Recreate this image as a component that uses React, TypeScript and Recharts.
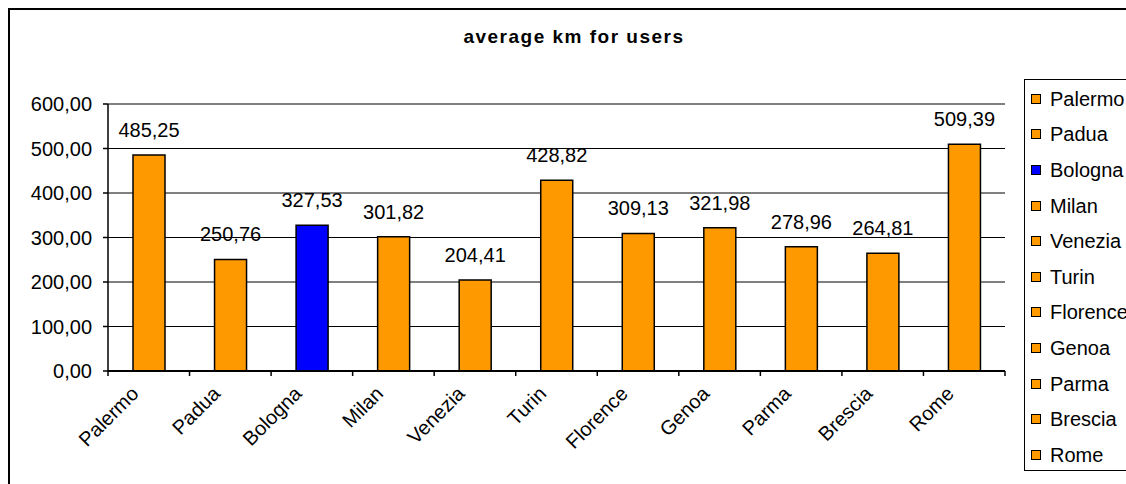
import { BarChart, Bar, XAxis, YAxis, CartesianGrid, Cell, LabelList, ReferenceLine } from "recharts";

const cities = ["Palermo", "Padua", "Bologna", "Milan", "Venezia", "Turin", "Florence", "Genoa", "Parma", "Brescia", "Rome"];
const avgKm = [485.25, 250.76, 327.53, 301.82, 204.41, 428.82, 309.13, 321.98, 278.96, 264.81, 509.39];
const cityColors = ["#FF9900", "#FF9900", "#0000FF", "#FF9900", "#FF9900", "#FF9900", "#FF9900", "#FF9900", "#FF9900", "#FF9900", "#FF9900"];
const yTicks = [0, 100, 200, 300, 400, 500, 600];

const FONT = '"Liberation Sans", Arial, sans-serif';
const FS = 20;
const CHART_W = 1116;
const CHART_H = 474;
const MARGIN = { top: 94, right: 121, left: 10, bottom: 13 };
const Y_AXIS_W = 88;
const PLOT_W = CHART_W - MARGIN.left - Y_AXIS_W - MARGIN.right;
const BAND = PLOT_W / cities.length;

const fmt = (v: number) => v.toFixed(2).replace(".", ",");

const data = cities.map((name, i) => ({ name, km: avgKm[i] }));

function CityTick(props: any) {
  const { x, y, payload, index } = props;
  const left = x - BAND / 2;
  const right = x + BAND / 2;
  return (
    <g>
      <line x1={left} y1={y} x2={left} y2={y + 5} stroke="#000" strokeWidth={1.5} />
      {index === cities.length - 1 && (
        <line x1={right} y1={y} x2={right} y2={y + 5} stroke="#000" strokeWidth={1.5} />
      )}
      <g transform={`translate(${x - 9},${y + 24})`}>
        <text transform="rotate(-45)" textAnchor="end" fontSize={FS} fill="#000" fontFamily={FONT}>
          {payload.value}
        </text>
      </g>
    </g>
  );
}

export default function App() {
  // fixed so the frame running past the window edge doesn't add scrollbars
  return (
    <div
      style={{
        position: "fixed",
        left: 8,
        top: 8,
        width: 1118,
        height: 476,
        borderTop: "2px solid #000",
        borderLeft: "2px solid #000",
        boxSizing: "border-box",
        overflow: "hidden",
        fontFamily: FONT,
        background: "#fff",
      }}
    >
      <div
        style={{
          position: "absolute",
          left: 0,
          top: 17,
          width: 1128,
          textAlign: "center",
          fontWeight: "bold",
          fontSize: 19,
          lineHeight: "20px",
          letterSpacing: 1.5,
          color: "#000",
        }}
      >
        average km for users
      </div>

      <div style={{ position: "absolute", left: 0, top: 0 }}>
        <BarChart width={CHART_W} height={CHART_H} data={data} margin={MARGIN}>
          <CartesianGrid vertical={false} stroke="#000" strokeWidth={1} yAxisId="left" />
          <XAxis
            dataKey="name"
            interval={0}
            height={100}
            axisLine={{ stroke: "#000", strokeWidth: 2 }}
            tickLine={false}
            tickSize={0}
            tickMargin={0}
            tick={<CityTick />}
          />
          <YAxis
            yAxisId="left"
            domain={[0, 600]}
            ticks={yTicks}
            width={Y_AXIS_W}
            tickFormatter={fmt}
            tick={{ fill: "#000", fontSize: FS, fontFamily: FONT }}
            axisLine={{ stroke: "#000", strokeWidth: 1.5 }}
            tickLine={{ stroke: "#000", strokeWidth: 1.5 }}
            tickSize={5}
            tickMargin={11}
          />
          <YAxis
            yAxisId="right"
            orientation="right"
            domain={[0, 600]}
            width={0}
            tick={false}
            tickLine={false}
            axisLine={{ stroke: "#808080", strokeWidth: 1.5 }}
          />
          <ReferenceLine yAxisId="left" y={600} stroke="#808080" strokeWidth={1.5} />
          <Bar yAxisId="left" dataKey="km" barSize={32} stroke="#000" strokeWidth={1.5} isAnimationActive={false}>
            {data.map((_, i) => (
              <Cell key={i} fill={cityColors[i]} />
            ))}
            <LabelList
              dataKey="km"
              position="top"
              offset={18}
              formatter={(v: any) => fmt(Number(v))}
              style={{ fill: "#000", fontSize: FS, fontFamily: FONT }}
            />
          </Bar>
        </BarChart>
      </div>

      <div
        style={{
          position: "absolute",
          left: 1014,
          top: 69,
          width: 140,
          height: 392,
          border: "1px solid #000",
          boxSizing: "border-box",
          paddingTop: 1,
        }}
      >
        {cities.map((c, i) => (
          <div key={c} style={{ height: 35.6, display: "flex", alignItems: "center", paddingLeft: 6 }}>
            <span
              style={{
                display: "inline-block",
                width: 8,
                height: 8,
                border: "1px solid #000",
                background: cityColors[i],
                marginRight: 9,
              }}
            />
            <span style={{ fontSize: FS, color: "#000", lineHeight: "20px" }}>{c}</span>
          </div>
        ))}
      </div>
    </div>
  );
}
